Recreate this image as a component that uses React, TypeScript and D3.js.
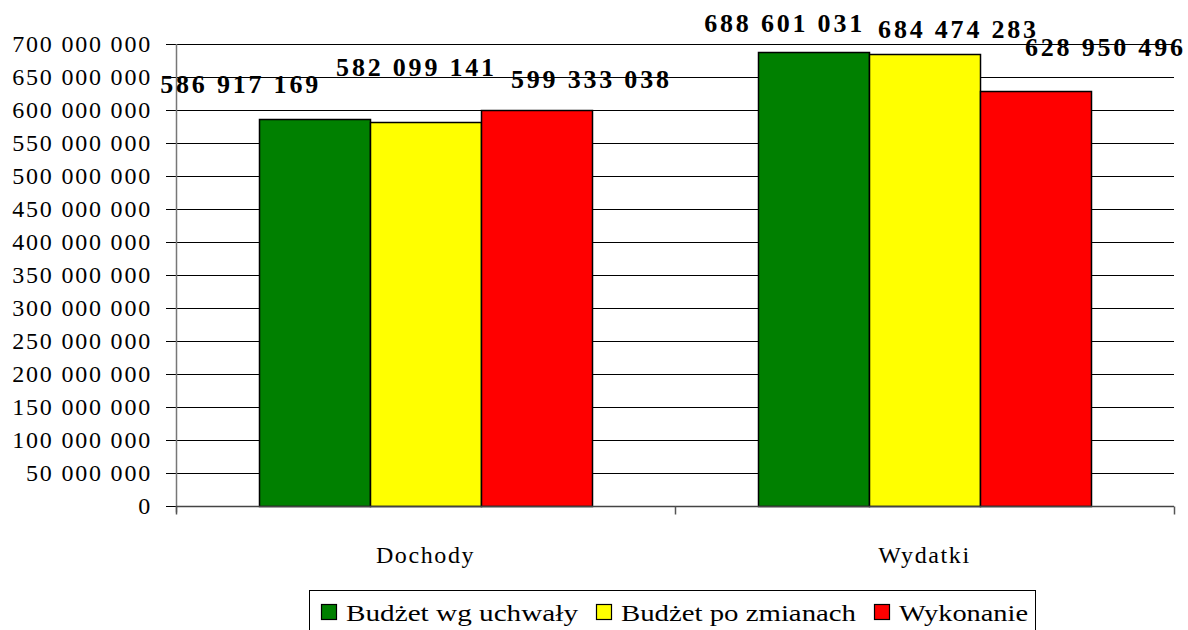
import { useEffect, useRef } from "react";
import * as d3 from "d3";

const categories = ["Dochody", "Wydatki"];
const seriesNames = ["Budżet wg uchwały", "Budżet po zmianach", "Wykonanie"];
const seriesColors = ["#008000", "#ffff00", "#ff0000"];
const budzetWgUchwaly = [586917169, 688601031];
const budzetPoZmianach = [582099141, 684474283];
const wykonanie = [599333038, 628950496];
const yTicks = d3.range(0, 700000001, 50000000);

const W = 1188;
const H = 630;
const M = { left: 176, right: 14, top: 44, bottom: 124 };
// Excel places the value labels a bit off-centre; nudges relative to bar centre
const LABEL_NUDGE: [number, number][][] = [
  [[-74, -26], [-9, -46], [55, -22]],
  [[-29, -20], [34, -16], [70, -35]],
];
// legend layout (x of swatch, stretched text width)
const LEGEND_X = [321, 596, 874];
const LEGEND_TEXT_W = [232, 235, 129];

const fmt = (v: number) => d3.format(",")(v).replace(/,/g, " ");
const SERIF = '"Liberation Serif", "Times New Roman", "DejaVu Serif", serif';

export default function App() {
  const ref = useRef<SVGSVGElement | null>(null);

  useEffect(() => {
    const svg = d3.select(ref.current);
    svg.selectAll("*").remove();
    const series = [budzetWgUchwaly, budzetPoZmianach, wykonanie];

    const x0 = d3.scaleBand<string>().domain(categories).range([M.left, W - M.right]);
    const x1 = d3
      .scaleBand<number>()
      .domain(d3.range(series.length))
      .range([0, x0.bandwidth()])
      .paddingOuter(0.75)
      .paddingInner(0);
    const y = d3.scaleLinear().domain([0, 700000000]).range([H - M.bottom, M.top]);
    const py = (v: number) => Math.round(y(v)) + 0.5;

    // gridlines + y ticks
    const g = svg.append("g");
    g.selectAll("line.grid")
      .data(yTicks)
      .enter()
      .append("line")
      .attr("x1", M.left - 10)
      .attr("x2", W - M.right)
      .attr("y1", (d) => py(d))
      .attr("y2", (d) => py(d))
      .attr("stroke", "#000")
      .attr("stroke-width", 1);

    g.selectAll("text.tick")
      .data(yTicks)
      .enter()
      .append("text")
      .attr("x", M.left - 24)
      .attr("y", (d) => y(d))
      .attr("dy", "0.35em")
      .attr("text-anchor", "end")
      .style("font-family", SERIF)
      .attr("font-size", 24)
      .attr("letter-spacing", 1.8)
      .text((d) => fmt(d));

    // bars
    categories.forEach((c, ci) => {
      series.forEach((s, si) => {
        const bx = Math.round((x0(c) ?? 0) + (x1(si) ?? 0)) + 0.5;
        const top = py(s[ci]);
        svg
          .append("rect")
          .attr("x", bx)
          .attr("y", top)
          .attr("width", Math.round(x1.bandwidth()))
          .attr("height", py(0) - top)
          .attr("fill", seriesColors[si])
          .attr("stroke", "#000")
          .attr("stroke-width", 1.5);
      });
    });

    // axes
    svg
      .append("line")
      .attr("x1", M.left + 0.5)
      .attr("x2", M.left + 0.5)
      .attr("y1", M.top)
      .attr("y2", py(0) + 6)
      .attr("stroke", "#777")
      .attr("stroke-width", 1.5);
    svg
      .append("line")
      .attr("x1", M.left)
      .attr("x2", W - M.right)
      .attr("y1", py(0))
      .attr("y2", py(0))
      .attr("stroke", "#444")
      .attr("stroke-width", 1.5);
    const xt = [...categories.map((c) => x0(c) ?? 0), W - M.right];
    svg
      .selectAll("line.xt")
      .data(xt)
      .enter()
      .append("line")
      .attr("x1", (d) => Math.round(d) + 0.5)
      .attr("x2", (d) => Math.round(d) + 0.5)
      .attr("y1", py(0))
      .attr("y2", py(0) + 8)
      .attr("stroke", "#555")
      .attr("stroke-width", 1.5);

    svg
      .selectAll("text.cat")
      .data(categories)
      .enter()
      .append("text")
      .attr("x", (d) => (x0(d) ?? 0) + x0.bandwidth() / 2)
      .attr("y", y(0) + 57)
      .attr("text-anchor", "middle")
      .style("font-family", SERIF)
      .attr("font-size", 24)
      .attr("letter-spacing", 1.6)
      .text((d) => d);

    // value labels
    categories.forEach((c, ci) => {
      series.forEach((s, si) => {
        const cx = (x0(c) ?? 0) + (x1(si) ?? 0) + x1.bandwidth() / 2;
        const [dx, dy] = LABEL_NUDGE[ci][si];
        svg
          .append("text")
          .attr("x", cx + dx)
          .attr("y", y(s[ci]) + dy)
          .attr("text-anchor", "middle")
          .style("font-family", SERIF)
          .attr("font-weight", "bold")
          .attr("font-size", 26)
          .attr("letter-spacing", 2.8)
          .text(fmt(s[ci]));
      });
    });

    // legend
    const lg = svg.append("g");
    lg.append("rect")
      .attr("x", 309.5)
      .attr("y", 590.5)
      .attr("width", 726)
      .attr("height", 60)
      .attr("fill", "#fff")
      .attr("stroke", "#000")
      .attr("stroke-width", 1);
    seriesNames.forEach((n, i) => {
      lg.append("rect")
        .attr("x", LEGEND_X[i] + 0.5)
        .attr("y", 604.5)
        .attr("width", 15)
        .attr("height", 15)
        .attr("fill", seriesColors[i])
        .attr("stroke", "#000")
        .attr("stroke-width", 1.2);
      lg.append("text")
        .attr("x", LEGEND_X[i] + 25)
        .attr("y", 621)
        .style("font-family", SERIF)
        .attr("font-size", 24)
        .attr("textLength", LEGEND_TEXT_W[i])
        .attr("lengthAdjust", "spacingAndGlyphs")
        .text(n);
    });
  }, []);

  return (
    <svg
      ref={ref}
      width={W}
      height={H}
      style={{ position: "absolute", left: 0, top: 0, background: "#fff" }}
    />
  );
}
